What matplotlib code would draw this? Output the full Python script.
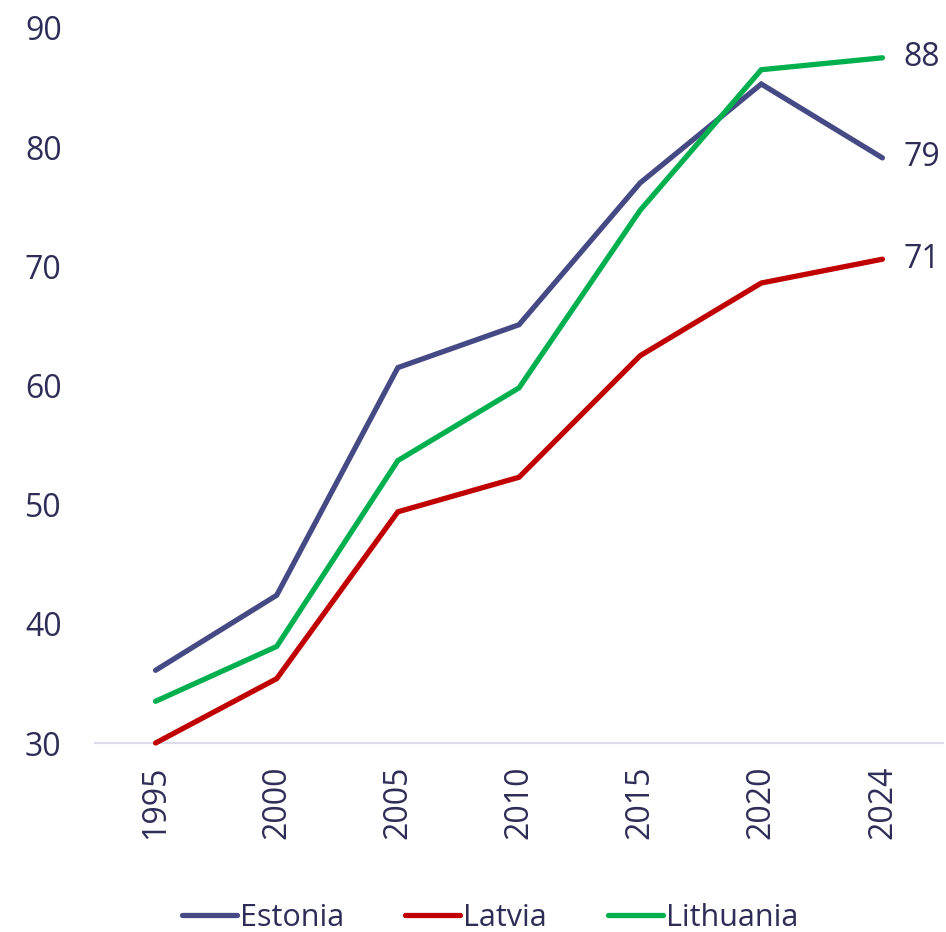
import matplotlib
matplotlib.use("Agg")
import matplotlib.pyplot as plt

years = ["1995", "2000", "2005", "2010", "2015", "2020", "2024"]
estonia = [36.1, 42.4, 61.5, 65.1, 77.0, 85.3, 79.1]
latvia = [30.0, 35.4, 49.4, 52.3, 62.5, 68.6, 70.6]
lithuania = [33.5, 38.1, 53.7, 59.8, 74.7, 86.5, 87.5]
end_labels = ["79", "71", "88"]

series = [("Estonia", estonia, "#454a85"), ("Latvia", latvia, "#c00000"), ("Lithuania", lithuania, "#00b04f")]
txt = "#2d2d57"
plt.rcParams['font.family'] = ['Open Sans', 'DejaVu Sans']

fig = plt.figure(figsize=(9.46, 9.32), dpi=100)
ax = fig.add_axes([95/946, (932-743)/932, 848/946, 715/932])
x = list(range(len(years)))
for (name, vals, col), lab in zip(series, end_labels):
    ax.plot(x, vals, color=col, lw=3.8, solid_capstyle='round', solid_joinstyle='miter',
            label=name, clip_on=False, zorder=3)
    ax.annotate(lab, (x[-1], vals[-1]), xytext=(15, 0), textcoords='offset points',
                va='center', ha='left', fontsize=23, color=txt)

ax.set_xlim(-0.5, 6.5)
ax.set_ylim(30, 90)
ax.set_yticks([30, 40, 50, 60, 70, 80, 90])
ax.set_xticks(x)
ax.set_xticklabels(years, rotation=90)
for s in ['top', 'right', 'left']:
    ax.spines[s].set_visible(False)
ax.spines['bottom'].set_color('#dcdcec')
ax.spines['bottom'].set_linewidth(1.5)
ax.spines['bottom'].set_zorder(1)
ax.tick_params(axis='both', length=0, labelsize=23, labelcolor=txt)
ax.tick_params(axis='y', pad=24)
ax.tick_params(axis='x', pad=16)

leg = fig.legend(loc='center', bbox_to_anchor=(490/946, 1 - 918/932), ncol=3, frameon=False,
                 fontsize=22, handlelength=1.8, handletextpad=0.1, columnspacing=2.0,
                 labelcolor=txt)
fig.savefig("out.png", dpi=100)
